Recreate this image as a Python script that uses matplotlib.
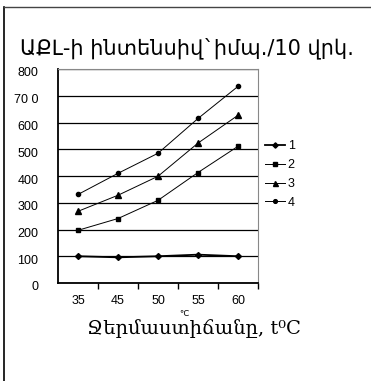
import numpy as np
import matplotlib
matplotlib.use("Agg")
import matplotlib.pyplot as plt
import matplotlib.transforms as mtransforms
from matplotlib.lines import Line2D

# data
temps = ["35", "45", "50", "55", "60"]
s1 = [100, 96, 100, 106, 100]
s2 = [197, 241, 309, 413, 511]
s3 = [268, 328, 399, 523, 627]
s4 = [331, 410, 485, 615, 735]
series_names = ["1", "2", "3", "4"]
ytick_vals = [0, 100, 200, 300, 400, 500, 600, 700, 800]
ytick_text = ["0", "100", "200", "300", "400", "500", "600", "70 0", "800"]

title = "ԱՔԼ-ի ինտենսիվ`իմպ./10 վրկ."
xlabel = "Ջերմաստիճանը, t⁰C"

W, H = 371, 381
fig = plt.figure(figsize=(W / 100, H / 100), dpi=100)
fig.patch.set_facecolor("white")

# outer frame, only top and left edges
fig.add_artist(Line2D([4 / W, 4 / W], [0, 1 - 7 / H], color="black", lw=1.2, transform=fig.transFigure))
fig.add_artist(Line2D([4 / W, 1], [1 - 7 / H, 1 - 7 / H], color="#444444", lw=1.0, transform=fig.transFigure))

ax = fig.add_axes([58 / W, 98 / H, 200 / W, 214 / H])
x = np.arange(len(temps))

ax.plot(x, s1, color="black", lw=1.3, marker="D", ms=3, label=series_names[0])
ax.plot(x, s2, color="black", lw=0.7, marker="s", ms=3.5, label=series_names[1])
ax.plot(x, s3, color="black", lw=0.7, marker="^", ms=4, label=series_names[2])
ax.plot(x, s4, color="black", lw=0.7, marker="o", ms=3, label=series_names[3])

ax.set_xlim(-0.5, len(temps) - 0.5)
ax.set_ylim(0, 800)
ax.set_yticks(ytick_vals)
ax.set_yticklabels(ytick_text)
ax.set_xticks(x)
ax.set_xticklabels(temps)
ax.set_xticks(np.arange(len(temps)) + 0.5, minor=True)
ax.tick_params(axis="x", which="major", length=0, pad=9, labelsize=9)
ax.tick_params(axis="x", which="minor", length=4, direction="out", width=1, color="black")
ax.tick_params(axis="y", length=0, pad=14, labelsize=9)
for lab in ax.get_xticklabels() + ax.get_yticklabels():
    lab.set_fontfamily("Liberation Sans")
# labels sit a little under their gridlines in the original
for lab in ax.get_yticklabels():
    lab.set_transform(lab.get_transform() + mtransforms.ScaledTranslation(0, -3 / 100, fig.dpi_scale_trans))

ax.yaxis.grid(True, color="black", lw=0.9)
ax.set_axisbelow(True)
ax.spines["left"].set_color("black")
ax.spines["left"].set_linewidth(1.3)
ax.spines["bottom"].set_color("black")
ax.spines["bottom"].set_linewidth(1.3)
ax.spines["top"].set_color("#888888")
ax.spines["right"].set_color("#888888")

leg = ax.legend(loc="upper left", bbox_to_anchor=(0.98, 0.72), frameon=False,
                handlelength=1.6, handletextpad=0.2, labelspacing=0.55, markerscale=0.9,
                prop={"family": "Liberation Sans", "size": 9})

fig.text(20 / W, 1 - 48 / H, title, fontsize=15, family="DejaVu Sans", va="center", ha="left")
fig.text(194 / W, 1 - 329 / H, xlabel, fontsize=14, family="DejaVu Serif", va="center", ha="center")
fig.text(184 / W, 1 - 313 / H, "℃", fontsize=6, family="DejaVu Sans", va="center", ha="center")

fig.savefig("out.png", dpi=100)
